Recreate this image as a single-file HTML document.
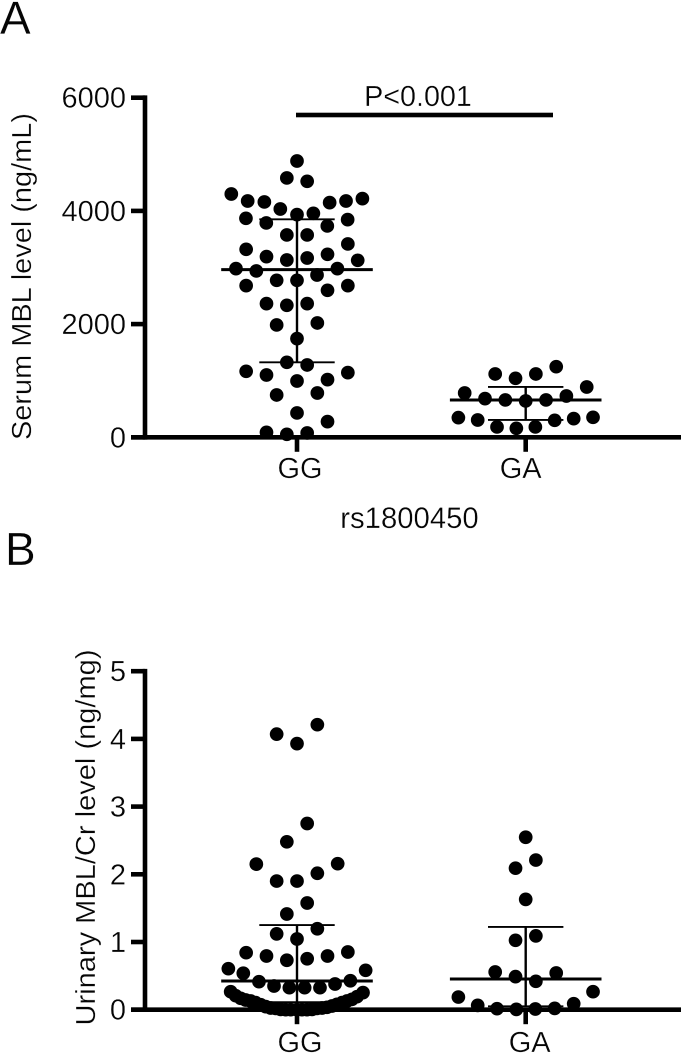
<!DOCTYPE html>
<html lang="en">
<head>
<meta charset="utf-8">
<title>MBL level by rs1800450 genotype</title>
<style>
html,body{margin:0;padding:0;background:#fff;}
svg{display:block;}
text{font-family:"Liberation Sans",sans-serif;fill:#050505;stroke:#fff;stroke-width:.3px;}
</style>
</head>
<body>
<svg id="chart" xmlns="http://www.w3.org/2000/svg" width="688" height="1056" viewBox="0 0 688 1056">
  <rect width="688" height="1056" fill="#fff"/>
  <text x="0" y="34" font-size="46">A</text>
  <text x="5" y="565" font-size="46">B</text>
  <text transform="translate(31,276.5) rotate(-90)" text-anchor="middle" font-size="28" textLength="327" lengthAdjust="spacingAndGlyphs">Serum MBL level (ng/mL)</text>
  <text transform="translate(95,837.5) rotate(-90)" text-anchor="middle" font-size="28" textLength="376" lengthAdjust="spacingAndGlyphs">Urinary MBL/Cr level (ng/mg)</text>
  <text x="409.5" y="528" text-anchor="middle" font-size="29.3">rs1800450</text>
  <text x="418" y="106" text-anchor="middle" font-size="28.7">P&lt;0.001</text>
  <rect x="296" y="112.7" width="257" height="4.6" fill="#000"/>
</svg>
<script>
// Panel A: serum MBL (ng/mL)
const categories = ["GG", "GA"];
const ticksA = [0, 2000, 4000, 6000];
const ticksB = [0, 1, 2, 3, 4, 5];

const ggSerum = [4882,4582,4523,4299,4175,4158,4146,4175,4217,4034,3934,3957,3869,3846,3787,3734,3575,3575,3321,3416,3192,3233,3133,3168,3127,2980,2939,2980,2774,2774,2868,2680,2680,2597,2362,2332,2362,1985,2020,1743,1325,1278,1166,1101,1143,1019,995,748,783,430,277,88,53,77];
const ggSerumSwarm = [0,-1,1,-6.46,-4.85,-3.21,3.21,4.82,6.43,-1.64,0,1.61,-5.02,4.98,-3.02,2.98,-1,1,-5,5,-3,3,-1,1,5.97,-6,-4,3.97,-2,0,1.97,-5,5,3,-3,-1,1,-2,2,0,-1,1,-5,-3,5,3,0,-2,2,0,3,-3,-1,1];
const gaSerum = [1248,1119,1119,1042,889,783,730,683,660,642,660,347,306,330,353,300,183,159,183];
const gaSerumSwarm = [3,1,-3,-1,6,-6,4,-4,-2,0,2,-6.62,-4.72,4.72,6.62,2.85,-2.82,-0.92,0.95];
const serumMean = [2962, 660];
const serumUpper = [3852, 889];
const serumLower = [1325, 306];

// Panel B: urinary MBL/Cr (ng/mg)
const ggUrine = [4.21,4.07,3.93,2.75,2.48,2.15,2.157,2.015,1.9,1.9,1.576,1.414,1.196,1.12,1.044,0.842,0.852,0.793,0.793,0.753,0.73,0.606,0.582,0.538,0.414,0.428,0.38,0.35,0.325,0.325,0.325,0.266,0.207,0.168,0.143,0.128,0.104,0.074,0.045,0.025,0.02,0.005,0,0,0,0,0,0.005,0.02,0.025,0.035,0.055,0.079,0.104,0.128,0.153,0.192,0.252];
const ggUrineSwarm = [2,-2,0,1,-1,-4,4,2,-2,0,1,-1,2,-2,0,-5,5,-3,3,1,-1,-6.75,6.75,-5.28,-3.74,5.25,3.74,-2.26,-0.75,0.75,2.26,-6.52,-6.03,-5.54,-5.05,-4.56,-4.07,-3.57,-3.08,-2.59,-2.1,-1.61,-1.11,-0.62,0,0.49,0.98,1.48,1.97,2.46,2.95,3.44,3.93,4.43,4.92,5.41,5.9,6.49];
const gaUrine = [2.547,2.21,2.09,1.63,1.09,1.025,0.557,0.542,0.488,0.419,0.266,0.187,0.064,0.089,0.015,0.005,0.01,0.02];
const gaUrineSwarm = [0,1,-1,0,1,-1,-3,3,-1,1,6.62,-6.62,-4.72,4.72,-2.82,-0.92,0.95,2.85];
const urineMean = [0.424, 0.453];
const urineUpper = [1.25, 1.222];
const urineLower = [0.11, 0.05];

const NS = "http://www.w3.org/2000/svg";
const svg = document.getElementById("chart");
const X_LEFT = 131, X_RIGHT = 681, AXIS_X = 145, SLOT = 10.17;
const catX = c => 297 + c * 228.7;
const swarmX = (c, s) => catX(c) + s * SLOT;
const yScale = (dMax, top, bottom) => v => bottom - (v / dMax) * (bottom - top);
const yA = yScale(6000, 97.7, 437.3);
const yB = yScale(5, 671.2, 1009.7);

function shape(tag, attrs, parent) {
  const el = document.createElementNS(NS, tag);
  for (const k in attrs) el.setAttribute(k, attrs[k]);
  (parent || svg).appendChild(el);
  return el;
}
function line(x1, y1, x2, y2, w, parent) {
  return shape("line", {x1, y1, x2, y2, stroke: "#000", "stroke-width": w}, parent);
}

function drawPanel(id, y, ticks, swarms, mean, upper, lower, labelY, labelDx) {
  const g = shape("g", {});
  
  

  const yAxis = line(AXIS_X, y(ticks[ticks.length - 1]) - 2.3, AXIS_X, y(0) + 2.3, 4.6, g);
  
  
  const xAxis = line(X_LEFT, y(0), X_RIGHT, y(0), 4.6, g);
  
  

  ticks.forEach(t => {
    const tk = line(X_LEFT, y(t), AXIS_X, y(t), 4.6, g);
    
    
    const lb = shape("text", {x: 126, y: y(t) + 10, "text-anchor": "end", "font-size": 29}, g);
    
    
    lb.textContent = t;
  });

  categories.forEach((name, c) => {
    const cx = catX(c);
    const tk = line(cx, y(0), cx, y(0) + 14.5, 4.6, g);
    
    
    const lb = shape("text", {x: cx + labelDx[c], y: labelY, "text-anchor": "middle", "font-size": 29}, g);
    
    
    lb.textContent = name;

    swarms[c].values.forEach((v, i) => {
      const dot = shape("circle", {cx: swarmX(c, swarms[c].slots[i]), cy: y(v), r: 6.85, fill: "#000"}, g);
      
      
    });

    const m = line(cx - 75.8, y(mean[c]), cx + 75.8, y(mean[c]), 3, g);
    
    
    const st = line(cx, y(upper[c]), cx, y(lower[c]), 2.4, g);
    
    
    const up = line(cx - 37.7, y(upper[c]), cx + 37.7, y(upper[c]), 1.9, g);
    
    
    const lo = line(cx - 37.7, y(lower[c]), cx + 37.7, y(lower[c]), 1.9, g);
    
    
  });
}

drawPanel("panel-a", yA, ticksA,
  [{values: ggSerum, slots: ggSerumSwarm}, {values: gaSerum, slots: gaSerumSwarm}],
  serumMean, serumUpper, serumLower, 478, [3, -5]);
drawPanel("panel-b", yB, ticksB,
  [{values: ggUrine, slots: ggUrineSwarm}, {values: gaUrine, slots: gaUrineSwarm}],
  urineMean, urineUpper, urineLower, 1052, [3, 4]);
</script>
</body>
</html>
